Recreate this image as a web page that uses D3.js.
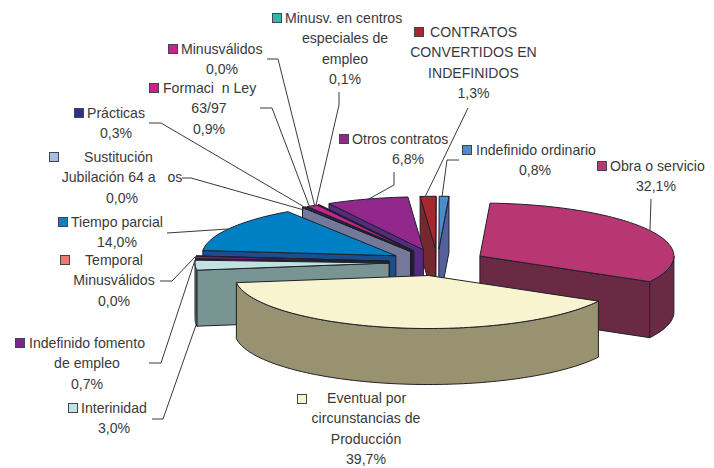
<!DOCTYPE html>
<html><head><meta charset="utf-8">
<script src="https://cdn.jsdelivr.net/npm/d3@7/dist/d3.min.js"></script>
<style>html,body{margin:0;padding:0;background:#fff}svg{display:block}
text{font-family:"Liberation Sans",Arial,sans-serif;font-size:14.1px;fill:#3a3a3c}</style>
</head><body><svg id="c" width="714" height="468"></svg>
<script>
const categories=["Obra o servicio","Eventual por circunstancias de Producción","Interinidad","Indefinido fomento de empleo","Temporal Minusválidos","Tiempo parcial","Sustitución Jubilación 64 años","Prácticas","Formación Ley 63/97","Minusválidos","Minusv. en centros especiales de empleo","Otros contratos","CONTRATOS CONVERTIDOS EN INDEFINIDOS","Indefinido ordinario"];
const values=[32.1,39.7,3.0,0.7,0.0,14.0,0.0,0.3,0.9,0.0,0.1,6.8,1.3,0.8];
const topColors=["#b83773","#f9f4d0","#c0e3e2","#7a2590","#f0786e","#0080c4","#a9bde0","#2e3192","#c4248c","#c4248c","#2fb8b0","#93288c","#a8262e","#4a8ccc"];
const sideColors=["#6b2a44","#999271","#789593","#3a1648","#7a3a36","#1a4e8c","#74799b","#1c1a3e","#1d1a30","#5c1445","#17504c","#552a80","#75292f","#52609d"];
const keyColors=["#b83773","#f9f4d0","#bfe3e2","#7a2590","#f0786e","#0f80c0","#a9bde0","#2e3192","#c4248c","#c4248c","#2fb8b0","#93288c","#a8262e","#4a8ccc"];
const labelLines=[["Obra o servicio"],["Eventual por","circunstancias de","Producción"],["Interinidad"],["Indefinido fomento","de empleo"],["Temporal","Minusválidos"],["Tiempo parcial"],["Sustitución","Jubilación 64 a\u00a0\u00a0\u00a0os"],["Prácticas"],["Formaci\u00a0\u00a0n Ley","63/97"],["Minusválidos"],["Minusv. en centros","especiales de","empleo"],["Otros contratos"],["CONTRATOS","CONVERTIDOS EN","INDEFINIDOS"],["Indefinido ordinario"]];

// label layout: key x/y, centre x of the text block, first baseline, first-line text x
const layout=[
 {kx:597,ky:161,tx:610,cx:656,by:171},
 {kx:297,ky:394,tx:327,cx:366,by:403},
 {kx:68,ky:403,tx:81,cx:114,by:413},
 {kx:15,ky:338,tx:29,cx:87,by:348},
 {kx:60,ky:255,tx:85,cx:114,by:265},
 {kx:58,ky:217,tx:71,cx:117,by:227},
 {kx:49,ky:152,tx:84,cx:122,by:162},
 {kx:74,ky:108,tx:87,cx:116,by:118},
 {kx:149,ky:83,tx:163,cx:209,by:93},
 {kx:168,ky:44,tx:181,cx:222,by:54},
 {kx:272,ky:13,tx:285,cx:345,by:23},
 {kx:339,ky:134,tx:352,cx:408,by:144},
 {kx:414,ky:27,tx:430,cx:473.5,by:37},
 {kx:462,ky:145,tx:476,cx:535,by:155}
];
const leaders=[
 [[651,199],[650,230]],
 [],
 [[152,419],[163,419],[196,325]],
 [[149,363],[161,363],[195,260]],
 [[160,281],[172,281],[195,257]],
 [[167,233],[228,229]],
 [[182,178],[191,178],[304,210]],
 [[149,123],[161,123],[306,208]],
 [[260,108],[272,108],[310,208]],
 [[267,59],[278,59],[315,207]],
 [[339,92],[339,105],[316,205]],
 [[394,172],[394,185],[367,200]],
 [[468,108],[425,197]],
 [[459,160],[447,160],[442,197]]
];

const svg=d3.select("#c");
const rad=Math.PI/180, start=3*rad, explode=0.25, stroke="#20202a";
const x=d3.scaleLinear().domain([-1,1]).range([437.5-194,437.5+194]);
const y=d3.scaleLinear().domain([-1,1]).range([262.5-53,262.5+53]);
const depth=56;
const arcs=d3.pie().sort(null).value(d=>d).startAngle(start).endAngle(start+2*Math.PI)(values);
const line=d3.line();

function geom(a){
  const mid=(a.startAngle+a.endAngle)/2, ox=explode*Math.sin(mid), oy=-explode*Math.cos(mid);
  const P=(t,r,dz=0)=>[x(ox+r*Math.sin(t)),y(oy-r*Math.cos(t))+dz];
  return {mid,P};
}
function arcAngles(a0,a1){
  const n=Math.max(2,Math.ceil((a1-a0)/(1.5*rad)));
  return d3.range(n+1).map(i=>a0+(a1-a0)*i/n);
}
function face(col,pts,w=1){
  svg.append("path").attr("d",line(pts)+"Z").attr("fill",col).attr("stroke",stroke)
     .attr("stroke-width",w).attr("stroke-linejoin","round");
}
const order=arcs.map((a,i)=>({a,i})).sort((p,q)=>{
  const f=o=>-Math.cos((o.a.startAngle+o.a.endAngle)/2);
  return f(p)-f(q);
});
order.forEach(({a,i})=>{
  const {P}=geom(a), a0=a.startAngle, a1=a.endAngle, side=sideColors[i];
  if(Math.sin(a0)<0) face(side,[P(a0,0),P(a0,1),P(a0,1,depth),P(a0,0,depth)]);
  if(Math.sin(a1)>0) face(side,[P(a1,0),P(a1,1),P(a1,1,depth),P(a1,0,depth)]);
  // outer rim: only where the rim faces the viewer (90deg to 270deg)
  const r0=Math.max(a0,90*rad), r1=Math.min(a1,270*rad);
  if(r1>r0){
    const ts=arcAngles(r0,r1);
    face(side,ts.map(t=>P(t,1)).concat(ts.slice().reverse().map(t=>P(t,1,depth))));
  }
  face(topColors[i],[P(a0,0)].concat(arcAngles(a0,a1).map(t=>P(t,1))));
});

// leader lines
leaders.forEach(l=>{ if(l.length) svg.append("path").attr("d",line(l)).attr("fill","none").attr("stroke","#3a3a3c").attr("stroke-width",1); });

// labels
const fmt=v=>v.toFixed(1).replace(".",",")+"%";
const lh=20.3;
categories.forEach((c,i)=>{
  const L=layout[i], g=svg.append("g").attr("class","label");
  g.append("rect").attr("x",L.kx+.5).attr("y",L.ky+.5).attr("width",9).attr("height",9)
   .attr("fill",keyColors[i]).attr("stroke","#44444c").attr("stroke-width",1);
  labelLines[i].concat([fmt(values[i])]).forEach((t,j)=>{
    const e=g.append("text").text(t).attr("y",L.by+j*lh);
    if(j===0) e.attr("x",L.tx); else e.attr("x",L.cx).attr("text-anchor","middle");
  });
});
</script></body></html>
